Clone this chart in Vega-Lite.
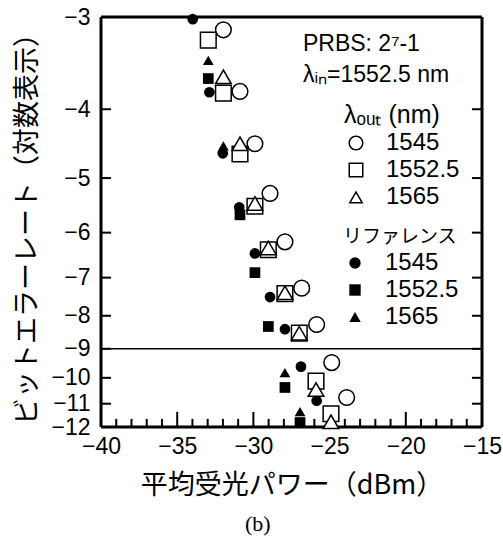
{
  "$schema": "https://vega.github.io/schema/vega-lite/v6.json",
  "width": 381,
  "height": 410,
  "autosize": {"type": "none"},
  "padding": {"left": 101, "top": 17, "right": 21, "bottom": 111},
  "background": "white",
  "title": {"text": "(b)", "orient": "bottom", "font": "Liberation Serif", "fontSize": 22, "fontWeight": "normal", "color": "black", "anchor": "middle", "frame": "bounds", "offset": 16},
  "config": {
    "font": "Liberation Sans",
    "view": {"stroke": null},
    "axis": {"grid": false, "ticks": false, "tickSize": 0, "domain": false, "labelColor": "black", "titleColor": "black", "labelFont": "Liberation Sans", "labelFontSize": 23, "labelOverlap": false, "labelFlush": false, "titleFont": "Noto Sans CJK JP", "titleFontSize": 27, "titleFontWeight": "normal"},
    "legend": {"labelFont": "Liberation Sans", "labelFontSize": 24, "labelColor": "black", "titleColor": "black", "titleFontWeight": "normal", "rowPadding": 3, "labelLimit": 300, "titleLimit": 300}
  },
  "datasets": {
    "exp": [
      {"x": -31.97, "y": -3.12, "lambda_out": "1545"},
      {"x": -30.88, "y": -3.78, "lambda_out": "1545"},
      {"x": -29.9, "y": -4.47, "lambda_out": "1545"},
      {"x": -28.91, "y": -5.26, "lambda_out": "1545"},
      {"x": -27.93, "y": -6.19, "lambda_out": "1545"},
      {"x": -26.83, "y": -7.26, "lambda_out": "1545"},
      {"x": -25.85, "y": -8.25, "lambda_out": "1545"},
      {"x": -24.86, "y": -9.46, "lambda_out": "1545"},
      {"x": -23.88, "y": -10.75, "lambda_out": "1545"},
      {"x": -32.96, "y": -3.22, "lambda_out": "1552.5"},
      {"x": -31.97, "y": -3.8, "lambda_out": "1552.5"},
      {"x": -30.88, "y": -4.62, "lambda_out": "1552.5"},
      {"x": -29.9, "y": -5.49, "lambda_out": "1552.5"},
      {"x": -29.02, "y": -6.36, "lambda_out": "1552.5"},
      {"x": -27.93, "y": -7.4, "lambda_out": "1552.5"},
      {"x": -26.99, "y": -8.51, "lambda_out": "1552.5"},
      {"x": -25.89, "y": -10.12, "lambda_out": "1552.5"},
      {"x": -24.91, "y": -11.42, "lambda_out": "1552.5"},
      {"x": -31.97, "y": -3.61, "lambda_out": "1565"},
      {"x": -30.88, "y": -4.47, "lambda_out": "1565"},
      {"x": -29.9, "y": -5.44, "lambda_out": "1565"},
      {"x": -29.02, "y": -6.32, "lambda_out": "1565"},
      {"x": -27.93, "y": -7.38, "lambda_out": "1565"},
      {"x": -26.99, "y": -8.51, "lambda_out": "1565"},
      {"x": -25.89, "y": -10.44, "lambda_out": "1565"},
      {"x": -24.91, "y": -11.77, "lambda_out": "1565"}
    ],
    "ref": [
      {"x": -33.98, "y": -3.02, "reference": "1545"},
      {"x": -32.89, "y": -3.79, "reference": "1545"},
      {"x": -32.01, "y": -4.61, "reference": "1545"},
      {"x": -30.93, "y": -5.51, "reference": "1545"},
      {"x": -29.9, "y": -6.44, "reference": "1545"},
      {"x": -28.91, "y": -7.49, "reference": "1545"},
      {"x": -27.93, "y": -8.39, "reference": "1545"},
      {"x": -26.88, "y": -9.6, "reference": "1545"},
      {"x": -25.85, "y": -10.88, "reference": "1545"},
      {"x": -32.96, "y": -3.63, "reference": "1552.5"},
      {"x": -30.88, "y": -5.65, "reference": "1552.5"},
      {"x": -29.9, "y": -6.88, "reference": "1552.5"},
      {"x": -29.02, "y": -8.31, "reference": "1552.5"},
      {"x": -27.93, "y": -10.36, "reference": "1552.5"},
      {"x": -26.94, "y": -11.8, "reference": "1552.5"},
      {"x": -32.96, "y": -3.43, "reference": "1565"},
      {"x": -31.97, "y": -4.5, "reference": "1565"},
      {"x": -27.93, "y": -9.81, "reference": "1565"},
      {"x": -26.94, "y": -11.33, "reference": "1565"}
    ],
    "note": [{"label": "annotation"}],
    "hedges": [{"edge": -3}, {"edge": -12}],
    "vedges": [{"edge": -40}, {"edge": -15}],
    "xmajor": [{"tick": -35}, {"tick": -30}, {"tick": -25}, {"tick": -20}],
    "xminor": [{"tick": -39}, {"tick": -38}, {"tick": -37}, {"tick": -36}, {"tick": -34}, {"tick": -33}, {"tick": -32}, {"tick": -31}, {"tick": -29}, {"tick": -28}, {"tick": -27}, {"tick": -26}, {"tick": -24}, {"tick": -23}, {"tick": -22}, {"tick": -21}, {"tick": -19}, {"tick": -18}, {"tick": -17}, {"tick": -16}],
    "yticks": [{"tick": -4}, {"tick": -5}, {"tick": -6}, {"tick": -7}, {"tick": -8}, {"tick": -9}, {"tick": -10}, {"tick": -11}]
  },
  "layer": [
    {
      "data": {"name": "hedges"},
      "mark": {"type": "rule", "stroke": "black", "strokeWidth": 3},
      "encoding": {
        "y": {"field": "edge", "type": "quantitative", "scale": {"type": "pow", "exponent": -0.15, "domain": [-12, -3], "nice": false, "zero": false}, "axis": null}
      }
    },
    {
      "data": {"name": "vedges"},
      "mark": {"type": "rule", "stroke": "black", "strokeWidth": 3},
      "encoding": {
        "x": {"field": "edge", "type": "quantitative", "scale": {"domain": [-40, -15], "nice": false, "zero": false}, "axis": null}
      }
    },
    {
      "data": {"name": "xmajor"},
      "mark": {"type": "rule", "stroke": "black", "strokeWidth": 2},
      "encoding": {
        "x": {"field": "tick", "type": "quantitative", "scale": {"domain": [-40, -15], "nice": false, "zero": false}, "axis": null},
        "y": {"datum": -12, "type": "quantitative", "scale": {"type": "pow", "exponent": -0.15, "domain": [-12, -3], "nice": false, "zero": false}, "axis": null},
        "y2": {"datum": -11.34}
      }
    },
    {
      "data": {"name": "xminor"},
      "mark": {"type": "rule", "stroke": "black", "strokeWidth": 2},
      "encoding": {
        "x": {"field": "tick", "type": "quantitative", "scale": {"domain": [-40, -15], "nice": false, "zero": false}, "axis": null},
        "y": {"datum": -12, "type": "quantitative", "scale": {"type": "pow", "exponent": -0.15, "domain": [-12, -3], "nice": false, "zero": false}, "axis": null},
        "y2": {"datum": -11.64}
      }
    },
    {
      "data": {"name": "yticks"},
      "mark": {"type": "rule", "stroke": "black", "strokeWidth": 2},
      "encoding": {
        "y": {"field": "tick", "type": "quantitative", "scale": {"type": "pow", "exponent": -0.15, "domain": [-12, -3], "nice": false, "zero": false}, "axis": null},
        "x": {"datum": -40, "type": "quantitative", "scale": {"domain": [-40, -15], "nice": false, "zero": false}, "axis": null},
        "x2": {"datum": -39.34}
      }
    },
    {
      "data": {"name": "yticks"},
      "mark": {"type": "rule", "stroke": "black", "strokeWidth": 2},
      "encoding": {
        "y": {"field": "tick", "type": "quantitative", "scale": {"type": "pow", "exponent": -0.15, "domain": [-12, -3], "nice": false, "zero": false}, "axis": null},
        "x": {"datum": -15.66, "type": "quantitative", "scale": {"domain": [-40, -15], "nice": false, "zero": false}, "axis": null},
        "x2": {"datum": -15}
      }
    },
    {
      "data": {"name": "note"},
      "mark": {"type": "rule", "stroke": "black", "strokeWidth": 1.6},
      "encoding": {
        "y": {"datum": -9, "type": "quantitative", "scale": {"type": "pow", "exponent": -0.15, "domain": [-12, -3], "nice": false, "zero": false}, "axis": null}
      }
    },
    {
      "data": {"name": "ref"},
      "mark": {"type": "point", "filled": true, "color": "black", "size": 115, "opacity": 1, "clip": false},
      "encoding": {
        "x": {"field": "x", "type": "quantitative", "scale": {"domain": [-40, -15], "nice": false, "zero": false}, "axis": null},
        "y": {"field": "y", "type": "quantitative", "scale": {"type": "pow", "exponent": -0.15, "domain": [-12, -3], "nice": false, "zero": false}, "axis": null},
        "shape": {"field": "reference", "type": "nominal",
          "scale": {"domain": ["1545", "1552.5", "1565"], "range": ["circle", "square", "triangle-up"]},
          "legend": {"title": "リファレンス", "titleFont": "Noto Sans CJK JP", "titleFontSize": 19, "orient": "none", "legendX": 242, "legendY": 211, "symbolSize": 130, "symbolFillColor": "black", "symbolStrokeWidth": 0, "symbolOpacity": 1, "labelOffset": 18, "titlePadding": 4}}
      }
    },
    {
      "data": {"name": "exp"},
      "mark": {"type": "point", "filled": true, "color": "black", "size": 240, "opacity": 1, "clip": false},
      "encoding": {
        "x": {"field": "x", "type": "quantitative", "scale": {"domain": [-40, -15], "nice": false, "zero": false}, "axis": null},
        "y": {"field": "y", "type": "quantitative", "scale": {"type": "pow", "exponent": -0.15, "domain": [-12, -3], "nice": false, "zero": false}, "axis": null},
        "shape": {"field": "lambda_out", "type": "nominal",
          "scale": {"domain": ["1545", "1552.5", "1565"], "range": [
            "M-1,0A1,1,0,1,0,1,0A1,1,0,1,0,-1,0ZM-0.8,0A0.8,0.8,0,1,1,0.8,0A0.8,0.8,0,1,1,-0.8,0Z",
            "M-1,-1L1,-1L1,1L-1,1ZM-0.8,-0.8L-0.8,0.8L0.8,0.8L0.8,-0.8Z",
            "M0,-0.866L1,0.866L-1,0.866ZM0,-0.465L-0.653,0.666L0.653,0.666Z"]},
          "legend": {"title": "λₒᵤₜ (nm)", "titleFont": "Liberation Sans", "titleFontSize": 25, "orient": "none", "legendX": 243, "legendY": 86, "symbolSize": 225, "symbolFillColor": "black", "symbolStrokeWidth": 0, "symbolOpacity": 1, "labelOffset": 18, "titlePadding": 3}}
      }
    },
    {
      "data": {"name": "exp"},
      "mark": {"type": "point", "filled": false, "fill": "white", "stroke": "black", "strokeWidth": 1.5, "size": 245, "opacity": 1, "fillOpacity": 1, "clip": false},
      "encoding": {
        "x": {"field": "x", "type": "quantitative", "scale": {"domain": [-40, -15], "nice": false, "zero": false},
          "axis": {"orient": "bottom", "values": [-40, -35, -30, -25, -20, -15], "labelPadding": 8, "title": "平均受光パワー（dBm）", "titlePadding": 14}},
        "y": {"field": "y", "type": "quantitative", "scale": {"type": "pow", "exponent": -0.15, "domain": [-12, -3], "nice": false, "zero": false},
          "axis": {"orient": "left", "values": [-3, -4, -5, -6, -7, -8, -9, -10, -11, -12], "labelPadding": 11, "title": "ビットエラーレート（対数表示）", "titlePadding": 9}},
        "shape": {"field": "lambda_out", "type": "nominal",
          "scale": {"domain": ["1545", "1552.5", "1565"], "range": ["circle", "square", "triangle-up"]},
          "legend": null}
      }
    },
    {
      "data": {"name": "note"},
      "mark": {"type": "text", "align": "left", "baseline": "alphabetic", "font": "Liberation Sans", "fontSize": 23, "lineHeight": 31, "color": "black", "text": ["PRBS: 2⁷-1", "λᵢₙ=1552.5 nm"]},
      "encoding": {
        "x": {"datum": -26.75, "type": "quantitative", "scale": {"domain": [-40, -15], "nice": false, "zero": false}, "axis": null},
        "y": {"datum": -3.33, "type": "quantitative", "scale": {"type": "pow", "exponent": -0.15, "domain": [-12, -3], "nice": false, "zero": false}, "axis": null}
      }
    }
  ],
  "resolve": {"scale": {"shape": "independent"}, "axis": {"x": "independent", "y": "independent"}, "legend": {"shape": "independent"}}
}
